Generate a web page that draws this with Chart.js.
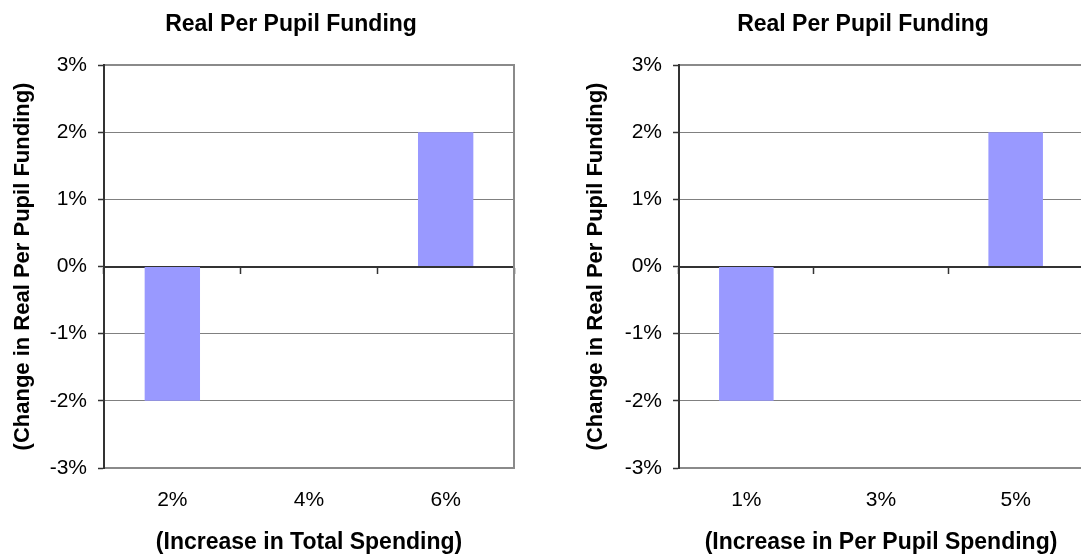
<!DOCTYPE html>
<html>
<head>
<meta charset="utf-8">
<script src="https://cdn.jsdelivr.net/npm/chart.js@4.4.0/dist/chart.umd.min.js"></script>
<style>
  html, body { margin: 0; padding: 0; background: #fff; }
  #wrap { position: relative; width: 1081px; height: 556px; overflow: hidden; }
  canvas { position: absolute; top: 0; }
</style>
</head>
<body>
<div id="wrap">
  <canvas id="leftPanel" width="582" height="556" style="left:0px"></canvas>
  <canvas id="rightPanel" width="606" height="556" style="left:560px"></canvas>
</div>
<script>
// ---- data ----
const chartTitle = 'Real Per Pupil Funding';
const yAxisTitle = '(Change in Real Per Pupil Funding)';

const leftCategories = ['2%', '4%', '6%'];
const leftValues = [-2, 0, 2];
const leftXTitle = '(Increase in Total Spending)';

const rightCategories = ['1%', '3%', '5%'];
const rightValues = [-2, 0, 2];
const rightXTitle = '(Increase in Per Pupil Spending)';

const yTicks = [-3, -2, -1, 0, 1, 2, 3];

// ---- styling ----
const FONT = "'Liberation Sans', Arial, Helvetica, sans-serif";
const BAR_COLOR = '#9999ff';
const GRID_GRAY = '#808080';
const FRAME_GRAY = '#8a8a8a';
const AXIS_DARK = '#333333';

function buildPanel(canvasId, categories, values, xTitle, box) {
  return new Chart(document.getElementById(canvasId), {
    type: 'bar',
    data: {
      labels: categories,
      datasets: [{
        data: values,
        backgroundColor: BAR_COLOR,
        borderWidth: 0,
        categoryPercentage: 1,
        barPercentage: 0.405,
        xAxisID: 'x',
        yAxisID: 'y'
      }]
    },
    options: {
      responsive: false,
      animation: false,
      layout: { padding: 0 },
      plugins: {
        legend: { display: false },
        tooltip: { enabled: false },
        title: {
          display: true,
          text: chartTitle,
          color: '#000',
          font: { family: FONT, size: 23, weight: 'bold' },
          padding: { top: 10.5, bottom: 26.9 }
        }
      },
      scales: {
        // bottom category axis: labels and axis title
        x: {
          type: 'category',
          position: 'bottom',
          offset: true,
          grid: { display: false, drawTicks: false, offset: true },
          border: { display: true, color: FRAME_GRAY, width: 2 },
          ticks: {
            color: '#000',
            padding: 20,
            maxRotation: 0,
            font: { family: FONT, size: 21 }
          },
          title: {
            display: true,
            text: xTitle,
            color: '#000',
            font: { family: FONT, size: 23, weight: 'bold' },
            padding: { top: 0, bottom: 0 }
          },
          afterFit: s => { s.height = box.bottomHeight; }
        },
        // category axis crossing at 0 with tick marks between categories
        xZero: {
          type: 'category',
          position: { y: 0 },
          offset: true,
          z: 1,
          grid: {
            display: true,
            offset: true,
            drawOnChartArea: false,
            drawTicks: true,
            tickLength: 6,
            tickColor: AXIS_DARK,
            tickWidth: 1.5
          },
          border: { display: true, color: AXIS_DARK, width: 2 },
          ticks: { display: false }
        },
        // top frame edge
        xTop: {
          type: 'category',
          position: 'top',
          grid: { display: false, drawTicks: false },
          border: { display: true, color: FRAME_GRAY, width: 2 },
          ticks: { display: false },
          afterFit: s => { s.height = 0; }
        },
        y: {
          type: 'linear',
          position: 'left',
          min: yTicks[0],
          max: yTicks[yTicks.length - 1],
          afterBuildTicks: s => { s.ticks = yTicks.map(v => ({ value: v })); },
          grid: {
            color: GRID_GRAY,
            lineWidth: 1,
            drawTicks: true,
            tickLength: 6,
            tickColor: AXIS_DARK,
            tickWidth: 1.5
          },
          border: { display: true, color: AXIS_DARK, width: 2 },
          ticks: {
            color: '#000',
            padding: 11,
            font: { family: FONT, size: 21 },
            callback: v => v + '%'
          },
          title: {
            display: true,
            text: yAxisTitle,
            color: '#000',
            font: { family: FONT, size: 22, weight: 'bold' },
            padding: { top: box.yTitlePad, bottom: 0 }
          },
          afterFit: s => { s.width = box.yAxisWidth; }
        },
        // right frame edge
        yRight: {
          type: 'linear',
          position: 'right',
          grid: { display: false, drawTicks: false },
          border: { display: true, color: FRAME_GRAY, width: 2 },
          ticks: { display: false },
          afterFit: s => { s.width = box.rightGap; }
        }
      }
    }
  });
}

buildPanel('leftPanel', leftCategories, leftValues, leftXTitle,
  { yAxisWidth: 104, rightGap: 68, yTitlePad: 10, bottomHeight: 88 });
buildPanel('rightPanel', rightCategories, rightValues, rightXTitle,
  { yAxisWidth: 119, rightGap: 83, yTitlePad: 23, bottomHeight: 88 });
</script>
</body>
</html>
